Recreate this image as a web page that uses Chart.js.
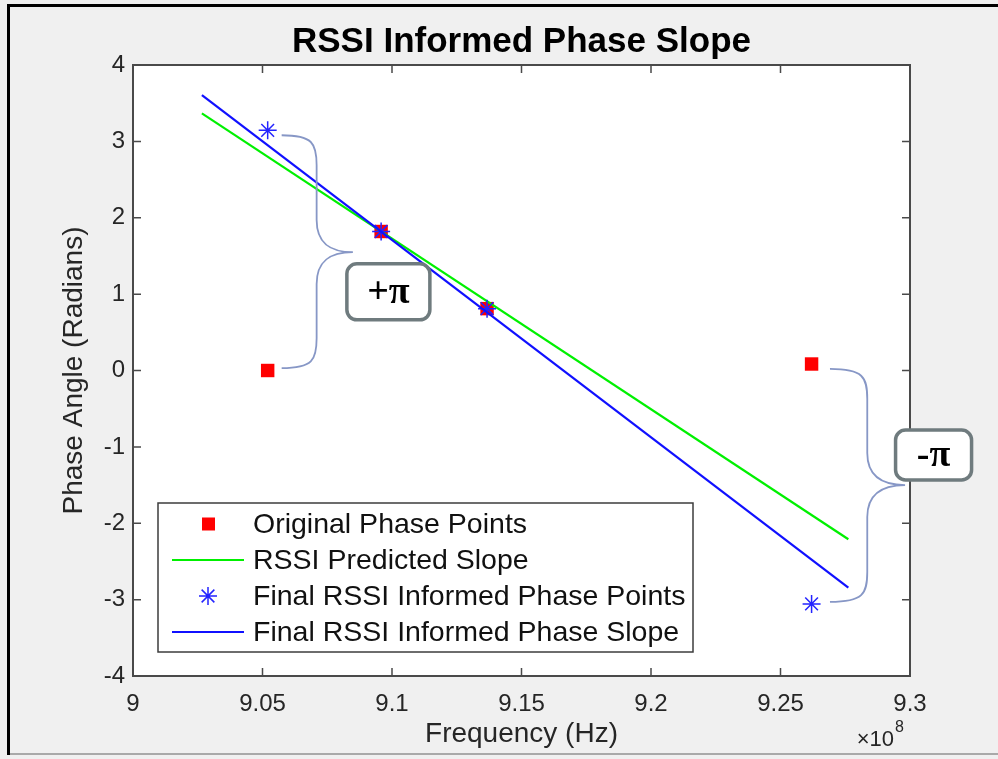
<!DOCTYPE html>
<html>

<head>
    <title>RSSI Informed Phase Slope</title>
    <style>
        body { margin: 0; background: #f0f0f0; }
        canvas { display: block; }
    </style>
</head>

<body>
    <canvas id="myChart" width="998" height="759"></canvas>
    <script src="https://cdn.jsdelivr.net/npm/chart.js@4.4.0/dist/chart.umd.min.js"></script>

    <script type="text/javascript">
        // phase points, frequency in Hz
        const freqPoints = [9.052e8, 9.0958e8, 9.1367e8, 9.262e8];
        const phaseOriginal = [0.0, 1.82, 0.81, 0.085];
        const phaseFinal = [3.145, 1.82, 0.81, -3.056];

        // end points of the two slopes
        const slopeFreq = [9.0266e8, 9.2762e8];
        const slopeRssi = [3.366, -2.209];
        const slopeFinal = [3.606, -2.843];

        const xTicks = [9.0e8, 9.05e8, 9.1e8, 9.15e8, 9.2e8, 9.25e8, 9.3e8];
        const yTicks = [-4, -3, -2, -1, 0, 1, 2, 3, 4];

        const seriesNames = ['Original Phase Points', 'RSSI Predicted Slope',
            'Final RSSI Informed Phase Points', 'Final RSSI Informed Phase Slope'];

        // braces (data units): end x, spine x, tip x, top y, tip y, bottom y
        const braceLeft = [9.0574e8, 9.0709e8, 9.0849e8, 3.08, 1.55, 0.03];
        const braceRight = [9.2691e8, 9.2835e8, 9.2981e8, 0.02, -1.50, -3.03];
        const boxLabels = ['+π', '-π'];
        const boxX = [9.0986e8, 9.3091e8];
        const boxY = [1.03, -1.106];

        const fontFam = '"Liberation Sans", Arial, Helvetica, sans-serif';

        function pts(xs, ys) {
            return xs.map((x, i) => ({ x: x, y: ys[i] }));
        }

        function asterisk(ctx, x, y, r, color) {
            ctx.strokeStyle = color;
            ctx.lineWidth = 1.5;
            ctx.beginPath();
            for (let k = 0; k < 4; k++) {
                const t = k * Math.PI / 4;
                ctx.moveTo(x - r * Math.cos(t), y - r * Math.sin(t));
                ctx.lineTo(x + r * Math.cos(t), y + r * Math.sin(t));
            }
            ctx.stroke();
        }

        function rrect(ctx, x, y, w, h, r) {
            ctx.beginPath();
            ctx.moveTo(x + r, y);
            ctx.arcTo(x + w, y, x + w, y + h, r);
            ctx.arcTo(x + w, y + h, x, y + h, r);
            ctx.arcTo(x, y + h, x, y, r);
            ctx.arcTo(x, y, x + w, y, r);
            ctx.closePath();
        }

        function drawBrace(ctx, chart, b) {
            const sx = chart.scales.x, sy = chart.scales.y;
            const x0 = sx.getPixelForValue(b[0]), xm = sx.getPixelForValue(b[1]), xt = sx.getPixelForValue(b[2]);
            const yt = sy.getPixelForValue(b[3]), ym = sy.getPixelForValue(b[4]), yb = sy.getPixelForValue(b[5]);
            const r = 30, q = 32;
            ctx.beginPath();
            ctx.moveTo(x0, yt);
            ctx.bezierCurveTo(xm - 4, yt, xm, yt + 8, xm, yt + r);
            ctx.lineTo(xm, ym - q);
            ctx.bezierCurveTo(xm, ym - 8, xt - 22, ym, xt, ym);
            ctx.bezierCurveTo(xt - 22, ym, xm, ym + 8, xm, ym + q);
            ctx.lineTo(xm, yb - r);
            ctx.bezierCurveTo(xm, yb - 8, xm - 4, yb, x0, yb);
            ctx.stroke();
        }

        const figurePlugin = {
            id: 'figure',
            beforeDraw(chart) {
                const { ctx, chartArea: a, width, height } = chart;
                ctx.save();
                ctx.fillStyle = '#f0f0f0';
                ctx.fillRect(0, 0, width, height);
                ctx.fillStyle = '#ffffff';
                ctx.fillRect(a.left, a.top, a.right - a.left, a.bottom - a.top);
                ctx.fillStyle = '#000';
                ctx.fillRect(7, 4, width - 7, 3);
                ctx.fillRect(7, 4, 3, 751);
                ctx.fillStyle = '#a9a9a9';
                ctx.fillRect(10, 753, width - 10, 2);
                ctx.restore();
            },
            afterDatasetsDraw(chart) {
                const { ctx, chartArea: a } = chart;
                const sx = chart.scales.x, sy = chart.scales.y;
                ctx.save();

                // axes box with inward ticks
                ctx.strokeStyle = '#4a4a4a';
                ctx.lineWidth = 2;
                ctx.strokeRect(a.left, a.top, a.right - a.left, a.bottom - a.top);
                ctx.lineWidth = 1.5;
                ctx.beginPath();
                xTicks.forEach(v => {
                    const p = sx.getPixelForValue(v);
                    ctx.moveTo(p, a.bottom); ctx.lineTo(p, a.bottom - 8);
                    ctx.moveTo(p, a.top); ctx.lineTo(p, a.top + 8);
                });
                yTicks.forEach(v => {
                    const p = sy.getPixelForValue(v);
                    ctx.moveTo(a.left, p); ctx.lineTo(a.left + 8, p);
                    ctx.moveTo(a.right, p); ctx.lineTo(a.right - 8, p);
                });
                ctx.stroke();

                // x10^8 exponent
                ctx.fillStyle = '#262626';
                ctx.textBaseline = 'alphabetic';
                ctx.textAlign = 'right';
                ctx.font = '16px ' + fontFam;
                ctx.fillText('8', a.right - 6, 732);
                ctx.font = '22px ' + fontFam;
                ctx.fillText('×10', a.right - 16, 746);

                // braces
                ctx.strokeStyle = '#8797c6';
                ctx.lineWidth = 1.8;
                drawBrace(ctx, chart, braceLeft);
                drawBrace(ctx, chart, braceRight);

                // +pi / -pi boxes
                const bw = [83, 76], bh = [56, 50];
                boxLabels.forEach((t, i) => {
                    const cx = sx.getPixelForValue(boxX[i]);
                    const cy = sy.getPixelForValue(boxY[i]);
                    rrect(ctx, cx - bw[i] / 2, cy - bh[i] / 2, bw[i], bh[i], 10);
                    ctx.fillStyle = '#fff';
                    ctx.fill();
                    ctx.strokeStyle = '#6f7b7e';
                    ctx.lineWidth = 3.5;
                    ctx.stroke();
                    ctx.fillStyle = '#000';
                    ctx.textAlign = 'center';
                    ctx.textBaseline = 'middle';
                    ctx.font = 'bold 38px "Liberation Serif", "Times New Roman", serif';
                    ctx.fillText(t, cx, cy + 1);
                });

                // legend
                const lx = a.left + 25, ly = a.bottom - 173, lw = 535, lh = 149;
                ctx.fillStyle = '#fff';
                ctx.fillRect(lx, ly, lw, lh);
                ctx.strokeStyle = '#3c3c3c';
                ctx.lineWidth = 1.5;
                ctx.strokeRect(lx, ly, lw, lh);
                ctx.font = '28.5px ' + fontFam;
                ctx.textAlign = 'left';
                ctx.textBaseline = 'middle';
                chart.data.datasets.forEach((ds, i) => {
                    const y = ly + 21 + i * 36;
                    if (ds.showLine) {
                        ctx.strokeStyle = ds.borderColor;
                        ctx.lineWidth = 2;
                        ctx.beginPath();
                        ctx.moveTo(lx + 14, y);
                        ctx.lineTo(lx + 86, y);
                        ctx.stroke();
                    } else if (ds.pointStyle === 'rect') {
                        ctx.fillStyle = ds.backgroundColor;
                        ctx.fillRect(lx + 44, y - 6.5, 13, 13);
                    } else {
                        asterisk(ctx, lx + 50, y, 9, ds.borderColor);
                    }
                    ctx.fillStyle = '#111';
                    ctx.fillText(ds.label, lx + 95, y + 1);
                });
                ctx.restore();
            }
        };

        var ctx = document.getElementById('myChart').getContext('2d');
        var myChart = new Chart(ctx, {
            type: 'scatter',
            data: {
                datasets: [{
                    label: seriesNames[0],
                    data: pts(freqPoints, phaseOriginal),
                    pointStyle: 'rect',
                    pointRadius: 9.5,
                    backgroundColor: '#ff0000',
                    borderColor: '#ff0000',
                    borderWidth: 0,
                    showLine: false,
                    order: 4
                }, {
                    label: seriesNames[1],
                    data: pts(slopeFreq, slopeRssi),
                    borderColor: '#00f000',
                    borderWidth: 2.2,
                    pointRadius: 0,
                    showLine: true,
                    order: 3
                }, {
                    label: seriesNames[2],
                    data: pts(freqPoints, phaseFinal),
                    pointStyle: 'star',
                    pointRadius: 9,
                    borderColor: '#2323ff',
                    borderWidth: 1.5,
                    showLine: false,
                    order: 2
                }, {
                    label: seriesNames[3],
                    data: pts(slopeFreq, slopeFinal),
                    borderColor: '#1010ff',
                    borderWidth: 2.2,
                    pointRadius: 0,
                    showLine: true,
                    order: 1
                }]
            },
            options: {
                responsive: false,
                animation: false,
                devicePixelRatio: 1,
                layout: { padding: { top: 0, right: 88, left: 0, bottom: 0 } },
                plugins: {
                    legend: { display: false },
                    tooltip: { enabled: false },
                    title: {
                        display: true,
                        text: 'RSSI Informed Phase Slope',
                        fullSize: false,
                        color: '#000',
                        font: { family: fontFam, size: 35, weight: 'bold' },
                        padding: { top: 21, bottom: 2 }
                    }
                },
                scales: {
                    x: {
                        type: 'linear',
                        min: 9.0e8,
                        max: 9.3e8,
                        grid: { display: false },
                        border: { display: false },
                        afterBuildTicks: s => { s.ticks = xTicks.map(v => ({ value: v })); },
                        afterFit: s => { s.height = 83; },
                        ticks: {
                            color: '#262626',
                            font: { family: fontFam, size: 24 },
                            padding: 6,
                            maxRotation: 0,
                            autoSkip: false,
                            callback: v => String(+(v / 1e8).toFixed(2))
                        },
                        title: {
                            display: true,
                            text: 'Frequency (Hz)',
                            color: '#262626',
                            font: { family: fontFam, size: 28 },
                            padding: { top: 0, bottom: 8 }
                        }
                    },
                    y: {
                        min: -4,
                        max: 4,
                        grid: { display: false },
                        border: { display: false },
                        afterBuildTicks: s => { s.ticks = yTicks.map(v => ({ value: v })); },
                        afterFit: s => { s.width = 133; },
                        ticks: {
                            color: '#262626',
                            font: { family: fontFam, size: 24 },
                            padding: 0
                        },
                        title: {
                            display: true,
                            text: 'Phase Angle (Radians)',
                            color: '#262626',
                            font: { family: fontFam, size: 28 },
                            padding: { top: 57, bottom: 0 }
                        }
                    }
                }
            },
            plugins: [figurePlugin]
        });
    </script>
</body>

</html>
